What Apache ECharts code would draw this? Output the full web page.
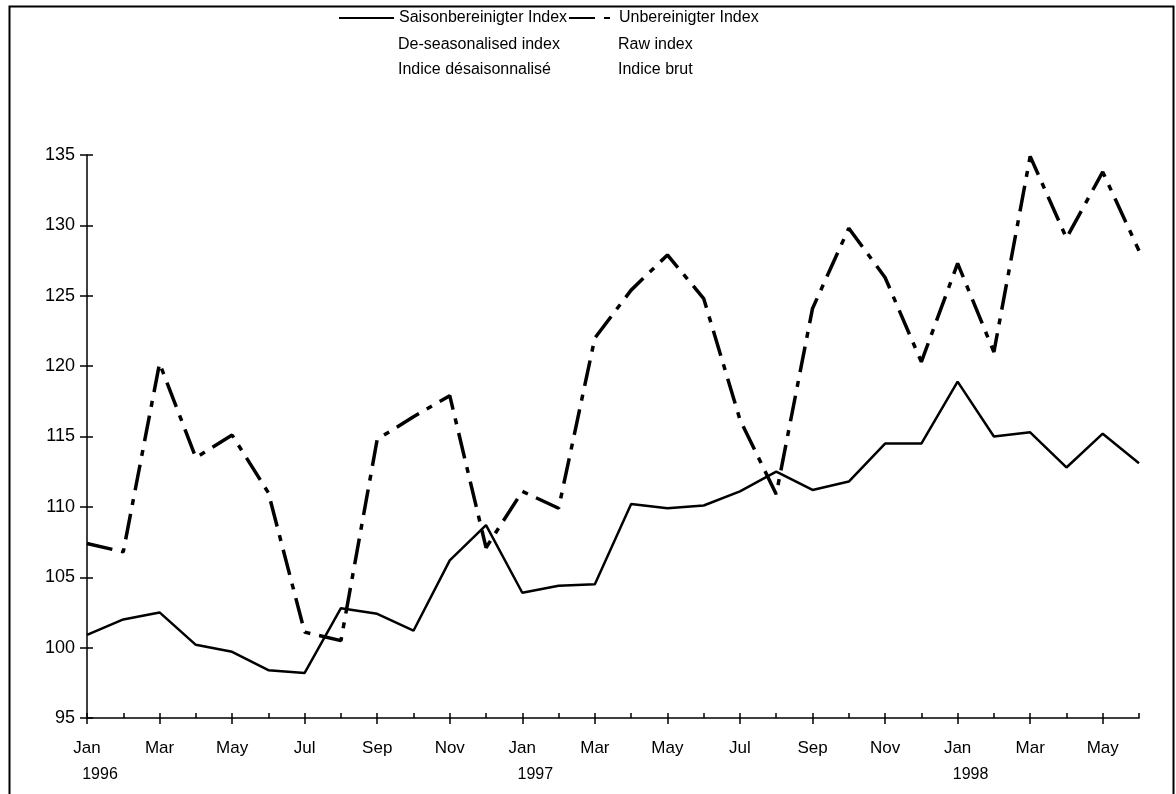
<!DOCTYPE html>
<html>
<head>
<meta charset="utf-8">
<script src="https://cdn.jsdelivr.net/npm/echarts@6/dist/echarts.min.js"></script>
<style>html,body{margin:0;padding:0;background:#fff;}#c{width:1176px;height:794px;}</style>
</head>
<body>
<div id="c"></div>
<script>
var months = ['Jan','Feb','Mar','Apr','May','Jun','Jul','Aug','Sep','Oct','Nov','Dec',
              'Jan','Feb','Mar','Apr','May','Jun','Jul','Aug','Sep','Oct','Nov','Dec',
              'Jan','Feb','Mar','Apr','May','Jun'];
var years = {0:'1996', 12:'1997', 24:'1998'};
var seasonAdj = [100.9, 102.0, 102.5, 100.2, 99.7, 98.4, 98.2, 102.8, 102.4, 101.2, 106.2, 108.7,
                 103.9, 104.4, 104.5, 110.2, 109.9, 110.1, 111.1, 112.5, 111.2, 111.8, 114.5, 114.5,
                 118.9, 115.0, 115.3, 112.8, 115.2, 113.1];
var rawIdx = [107.4, 106.8, 120.2, 113.5, 115.1, 111.0, 101.1, 100.5, 114.8, 116.4, 117.9, 107.1,
              111.1, 109.9, 122.0, 125.4, 127.9, 124.8, 116.2, 110.9, 124.1, 129.8, 126.3, 120.3,
              127.3, 121.0, 134.9, 129.1, 133.8, 128.2];
var yTicks = {min: 95, max: 135, step: 5};
var legendNames = ['Saisonbereinigter Index', 'Unbereinigter Index'];
var legendLines2 = ['De-seasonalised index', 'Raw index'];
var legendLines3 = ['Indice désaisonnalisé', 'Indice brut'];

var FONT = '"Liberation Sans", Arial, sans-serif';
var chart = echarts.init(document.getElementById('c'));
var legendText = {color: '#000', fontFamily: FONT, fontSize: 16};
var option = {
  animation: false,
  backgroundColor: '#fff',
  grid: {left: 87, right: 37, top: 155, bottom: 76},
  legend: [
    {data: [legendNames[0]], left: 338, top: 10, padding: 0, itemWidth: 55, itemHeight: 14, selectedMode: false,
     itemStyle: {opacity: 0}, textStyle: legendText},
    {data: [legendNames[1]], left: 568, top: 10, padding: 0, itemWidth: 45, itemHeight: 14, selectedMode: false,
     itemStyle: {opacity: 0}, textStyle: legendText}
  ],
  graphic: [
    {type: 'rect', left: 7, top: 4, shape: {width: 1164, height: 792}, style: {fill: 'none', stroke: '#000', lineWidth: 2}, silent: true},
    {type: 'text', left: 398, top: 32, style: {text: legendLines2[0] + '\n' + legendLines3[0], fill: '#000', font: '16px ' + FONT, lineHeight: 25}},
    {type: 'text', left: 618, top: 32, style: {text: legendLines2[1] + '\n' + legendLines3[1], fill: '#000', font: '16px ' + FONT, lineHeight: 25}}
  ],
  xAxis: [
    {type: 'category', data: months, boundaryGap: false,
     axisLine: {lineStyle: {color: '#000', width: 1.5}},
     axisTick: {interval: 1, length: 6, inside: false, lineStyle: {color: '#000', width: 1.5}},
     axisLabel: {interval: 1, margin: 20, color: '#000', fontFamily: FONT,
       formatter: function (v, i) {
         if (years[i]) return '{m|' + v + '}\n{y|' + years[i] + '}';
         return '{m|' + v + '}';
       },
       rich: {
         m: {fontSize: 17, lineHeight: 20, fontFamily: FONT, color: '#000'},
         y: {fontSize: 16, lineHeight: 34, fontFamily: FONT, color: '#000', padding: [0, 0, 0, 26]}
       }},
     splitLine: {show: false}},
    {type: 'category', data: months, boundaryGap: false, position: 'bottom',
     axisLine: {show: false},
     axisTick: {interval: 0, length: 5, inside: true, lineStyle: {color: '#000', width: 1.5}},
     axisLabel: {show: false}, splitLine: {show: false}}
  ],
  yAxis: [
    {type: 'value', min: yTicks.min, max: yTicks.max, interval: yTicks.step,
     axisLine: {show: true, lineStyle: {color: '#000', width: 1.5}},
     axisTick: {show: true, length: 7, lineStyle: {color: '#000', width: 1.5}},
     axisLabel: {margin: 12, color: '#000', fontFamily: FONT, fontSize: 18},
     splitLine: {show: false}},
    {type: 'value', min: yTicks.min, max: yTicks.max, interval: yTicks.step, position: 'left',
     axisLine: {show: false},
     axisTick: {show: true, inside: true, length: 6, lineStyle: {color: '#000', width: 1.5}},
     axisLabel: {show: false}, splitLine: {show: false}}
  ],
  series: [
    {name: legendNames[0], type: 'line', data: seasonAdj, symbol: 'none',
     lineStyle: {color: '#000', width: 2.5}, itemStyle: {color: '#000'}},
    {name: legendNames[1], type: 'line', data: rawIdx, symbol: 'none',
     lineStyle: {color: '#000', width: 3.5, type: [26, 9, 6, 9]}, itemStyle: {color: '#000'}}
  ]
};
chart.setOption(option);
</script>
</body>
</html>
